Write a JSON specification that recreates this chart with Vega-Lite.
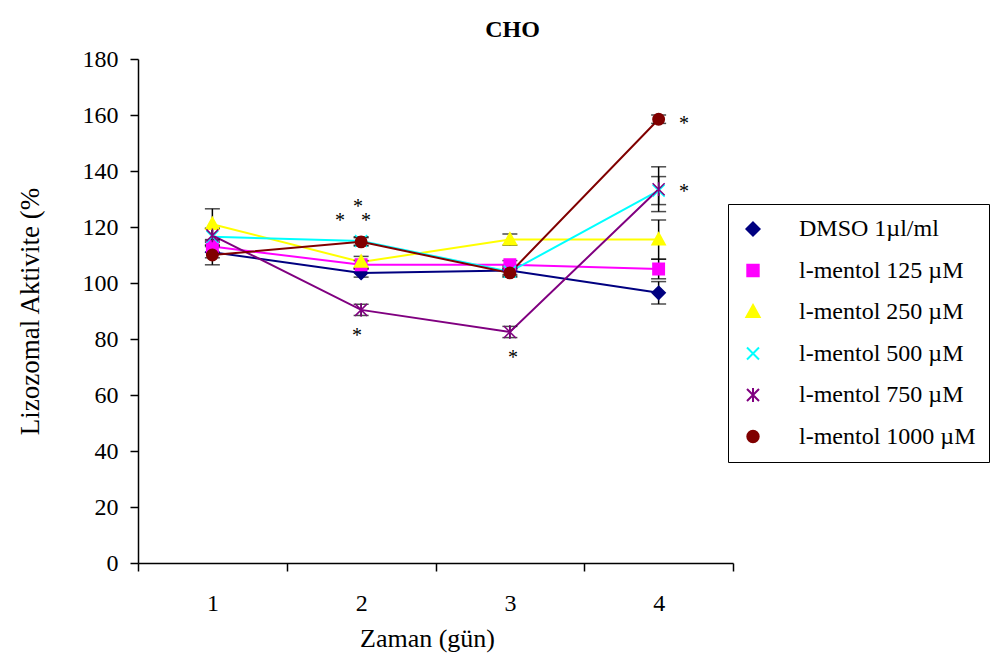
{
  "$schema": "https://vega.github.io/schema/vega-lite/v6.json",
  "width": 595,
  "height": 504,
  "autosize": {"type": "none"},
  "padding": {"left": 138, "top": 59, "right": 272, "bottom": 95},
  "background": "white",
  "config": {
    "view": {"stroke": null},
    "font": "Liberation Serif",
    "axis": {"labelFont": "Liberation Serif", "titleFont": "Liberation Serif", "labelColor": "black", "titleColor": "black", "titleFontWeight": "normal", "domainColor": "black", "tickColor": "black", "domainWidth": 1.5, "tickWidth": 1.5, "grid": false},
    "legend": {"labelFont": "Liberation Serif", "labelColor": "black"}
  },
  "title": {"text": "CHO", "font": "Liberation Serif", "fontSize": 24, "fontWeight": "bold", "color": "black", "anchor": "middle", "dx": 77, "baseline": "alphabetic", "offset": -14},
  "datasets": {
    "series": [
      {"series": "DMSO 1µl/ml", "day": 1, "value": 111, "lo": 109, "hi": 113},
      {"series": "DMSO 1µl/ml", "day": 2, "value": 103.6, "lo": 102.1, "hi": 105.1},
      {"series": "DMSO 1µl/ml", "day": 3, "value": 104.5, "lo": 103, "hi": 106},
      {"series": "DMSO 1µl/ml", "day": 4, "value": 96.5, "lo": 92.5, "hi": 100.5},
      {"series": "l-mentol 125 µM", "day": 1, "value": 113, "lo": 111, "hi": 115},
      {"series": "l-mentol 125 µM", "day": 2, "value": 106.5, "lo": 105, "hi": 108},
      {"series": "l-mentol 125 µM", "day": 3, "value": 106.5, "lo": 105, "hi": 108},
      {"series": "l-mentol 125 µM", "day": 4, "value": 105, "lo": 101.5, "hi": 108.5},
      {"series": "l-mentol 250 µM", "day": 1, "value": 121, "lo": 115.5, "hi": 126.5},
      {"series": "l-mentol 250 µM", "day": 2, "value": 107.5, "lo": 105.5, "hi": 109.5},
      {"series": "l-mentol 250 µM", "day": 3, "value": 115.5, "lo": 113.5, "hi": 117.5},
      {"series": "l-mentol 250 µM", "day": 4, "value": 115.5, "lo": 108.5, "hi": 122.5},
      {"series": "l-mentol 500 µM", "day": 1, "value": 116.5, "lo": 113.5, "hi": 119.5},
      {"series": "l-mentol 500 µM", "day": 2, "value": 115, "lo": 113.5, "hi": 116.5},
      {"series": "l-mentol 500 µM", "day": 3, "value": 104, "lo": 102.5, "hi": 105.5},
      {"series": "l-mentol 500 µM", "day": 4, "value": 133, "lo": 128, "hi": 138},
      {"series": "l-mentol 750 µM", "day": 1, "value": 117, "lo": 114.5, "hi": 119.5},
      {"series": "l-mentol 750 µM", "day": 2, "value": 90.4, "lo": 88.4, "hi": 92.4},
      {"series": "l-mentol 750 µM", "day": 3, "value": 82.5, "lo": 80.5, "hi": 84.5},
      {"series": "l-mentol 750 µM", "day": 4, "value": 133.5, "lo": 125.5, "hi": 141.5},
      {"series": "l-mentol 1000 µM", "day": 1, "value": 110, "lo": 106.5, "hi": 113.5},
      {"series": "l-mentol 1000 µM", "day": 2, "value": 114.7, "lo": 113.2, "hi": 116.2},
      {"series": "l-mentol 1000 µM", "day": 3, "value": 103.6, "lo": 102.1, "hi": 105.1},
      {"series": "l-mentol 1000 µM", "day": 4, "value": 158.5, "lo": 157, "hi": 160}
    ],
    "stars": [
      {"day": 1.858, "value": 123.2, "mark": "*"},
      {"day": 2.033, "value": 123.2, "mark": "*"},
      {"day": 1.979, "value": 128.2, "mark": "*"},
      {"day": 1.972, "value": 82.1, "mark": "*"},
      {"day": 3.021, "value": 74.3, "mark": "*"},
      {"day": 4.171, "value": 157.9, "mark": "*"},
      {"day": 4.171, "value": 133.6, "mark": "*"}
    ]
  },
  "encoding": {
    "x": {"field": "day", "type": "quantitative", "title": "Zaman (gün)", "scale": {"domain": [0.5, 4.5], "nice": false, "zero": false},
      "axis": {"values": [0.5, 1, 1.5, 2, 2.5, 3, 3.5, 4, 4.5], "labelExpr": "datum.value % 1 == 0 ? format(datum.value, 'd') : ''", "tickOpacity": {"condition": {"test": "datum.value % 1 == 0", "value": 0}, "value": 1}, "tickSize": 8, "labelFontSize": 24, "labelPadding": 20, "labelFlush": false, "labelOverlap": false, "titleFontSize": 26, "titlePadding": 10, "titleX": 289}}
  },
  "layer": [
    {
      "data": {"name": "series"},
      "mark": {"type": "line", "strokeWidth": 2},
      "encoding": {
        "y": {"field": "value", "type": "quantitative", "title": "Lizozomal Aktivite (%", "scale": {"domain": [0, 180], "nice": false},
          "axis": {"values": [0, 20, 40, 60, 80, 100, 120, 140, 160, 180], "tickSize": 8, "labelFontSize": 24, "labelPadding": 12, "titleFontSize": 27, "titlePadding": 38}},
        "color": {"field": "series", "type": "nominal", "title": null,
          "scale": {"domain": ["DMSO 1µl/ml", "l-mentol 125 µM", "l-mentol 250 µM", "l-mentol 500 µM", "l-mentol 750 µM", "l-mentol 1000 µM"], "range": ["#000080", "#FF00FF", "#FFFF00", "#00FFFF", "#800080", "#800000"]},
          "legend": {
            "orient": "none", "legendX": 590, "legendY": 145,
            "padding": 13, "strokeColor": "black", "fillColor": "white",
            "labelFontSize": 24, "labelLimit": 400, "labelOffset": 34, "rowPadding": 17.5,
            "symbolSize": 144, "symbolStrokeWidth": 2,
            "encode": {"symbols": {"update": {
              "fill": {"scale": "color", "field": "value"},
              "stroke": {"scale": "color", "field": "value"}
            }}}
          }},
        "order": {"field": "day", "type": "quantitative"}
      }
    },
    {
      "data": {"name": "series"},
      "mark": {"type": "rule", "color": "black", "strokeWidth": 1.5},
      "encoding": {
        "y": {"field": "lo", "type": "quantitative", "title": "Lizozomal Aktivite (%"},
        "y2": {"field": "hi"}
      }
    },
    {
      "data": {"name": "series"},
      "mark": {"type": "tick", "orient": "horizontal", "color": "black", "size": 15, "thickness": 1.5},
      "encoding": {
        "y": {"field": "lo", "type": "quantitative", "title": "Lizozomal Aktivite (%"}
      }
    },
    {
      "data": {"name": "series"},
      "mark": {"type": "tick", "orient": "horizontal", "color": "black", "size": 15, "thickness": 1.5},
      "encoding": {
        "y": {"field": "hi", "type": "quantitative", "title": "Lizozomal Aktivite (%"}
      }
    },
    {
      "data": {"name": "series"},
      "mark": {"type": "point", "filled": true, "opacity": 1, "size": 144, "strokeWidth": 1.5},
      "encoding": {
        "y": {"field": "value", "type": "quantitative", "title": "Lizozomal Aktivite (%"},
        "fill": {"field": "series", "type": "nominal", "legend": null,
          "scale": {"domain": ["DMSO 1µl/ml", "l-mentol 125 µM", "l-mentol 250 µM", "l-mentol 500 µM", "l-mentol 750 µM", "l-mentol 1000 µM"], "range": ["#000080", "#FF00FF", "#FFFF00", "#00FFFF", "#800080", "#800000"]}},
        "stroke": {"field": "series", "type": "nominal", "legend": null,
          "scale": {"domain": ["DMSO 1µl/ml", "l-mentol 125 µM", "l-mentol 250 µM", "l-mentol 500 µM", "l-mentol 750 µM", "l-mentol 1000 µM"], "range": ["#000080", "#FF00FF", "#FFFF00", "#00FFFF", "#800080", "#800000"]}},
        "shape": {"field": "series", "type": "nominal", "legend": null,
          "scale": {"domain": ["DMSO 1µl/ml", "l-mentol 125 µM", "l-mentol 250 µM", "l-mentol 500 µM", "l-mentol 750 µM", "l-mentol 1000 µM"], "range": ["M0,-1.1L1.1,0L0,1.1L-1.1,0Z", "M-0.95,-0.95H0.95V0.95H-0.95Z", "M0,-1.15L1.1,0.85H-1.1Z", "M-1,-1L1,1M-1,1L1,-1", "M-1,-1L1,1M-1,1L1,-1M0,-1.15V1.15", "M0.95,0A0.95,0.95,0,1,1,-0.95,0A0.95,0.95,0,1,1,0.95,0Z"]}}
      }
    },
    {
      "data": {"name": "stars"},
      "mark": {"type": "text", "font": "Liberation Serif", "fontSize": 20, "color": "black", "baseline": "alphabetic", "dy": 9},
      "encoding": {
        "y": {"field": "value", "type": "quantitative", "title": "Lizozomal Aktivite (%"},
        "text": {"field": "mark"}
      }
    }
  ]
}
